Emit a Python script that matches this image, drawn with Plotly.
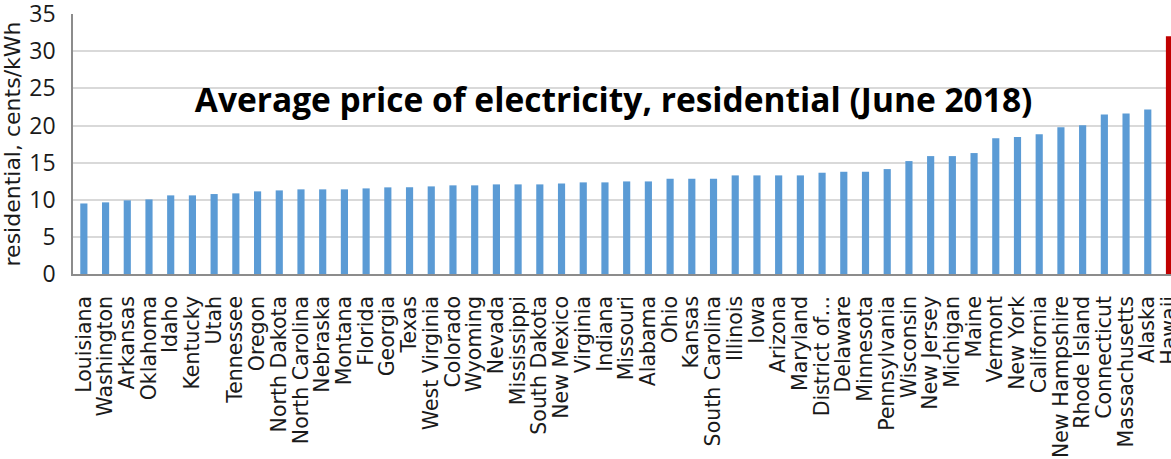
import plotly.graph_objects as go

# States ordered by price (June 2018)
states = [
    "Louisiana", "Washington", "Arkansas", "Oklahoma", "Idaho", "Kentucky",
    "Utah", "Tennessee", "Oregon", "North Dakota", "North Carolina",
    "Nebraska", "Montana", "Florida", "Georgia", "Texas", "West Virginia",
    "Colorado", "Wyoming", "Nevada", "Mississippi", "South Dakota",
    "New Mexico", "Virginia", "Indiana", "Missouri", "Alabama", "Ohio",
    "Kansas", "South Carolina", "Illinois", "Iowa", "Arizona", "Maryland",
    "District of…", "Delaware", "Minnesota", "Pennsylvania", "Wisconsin",
    "New Jersey", "Michigan", "Maine", "Vermont", "New York", "California",
    "New Hampshire", "Rhode Island", "Connecticut", "Massachusetts",
    "Alaska", "Hawaii",
]

# cents/kWh
prices = [
    9.50, 9.65, 9.92, 10.05, 10.59, 10.59, 10.77, 10.86, 11.13, 11.26,
    11.40, 11.40, 11.40, 11.53, 11.67, 11.67, 11.80, 11.94, 11.94, 12.07,
    12.07, 12.07, 12.20, 12.34, 12.34, 12.47, 12.47, 12.83, 12.83, 12.83,
    13.28, 13.28, 13.28, 13.28, 13.64, 13.77, 13.77, 14.13, 15.21, 15.88,
    15.88, 16.29, 18.30, 18.44, 18.84, 19.78, 20.05, 21.49, 21.63, 22.16,
    32.03,
]

y_ticks = [0, 5, 10, 15, 20, 25, 30, 35]

bar_colors = ["#c00000" if s == "Hawaii" else "#5b9bd5" for s in states]

fig = go.Figure()

fig.add_trace(go.Bar(
    x=states,
    y=prices,
    marker=dict(color=bar_colors, line=dict(width=0)),
    showlegend=False,
))

fig.update_layout(
    width=1171,
    height=459,
    margin=dict(l=73, r=0, t=14, b=185),
    plot_bgcolor="white",
    paper_bgcolor="white",
    bargap=0.67,
    font=dict(family="DejaVu Sans", size=20, color="#1a1a1a"),
    title=dict(
        text="<b>Average price of electricity, residential (June 2018)</b>",
        x=0.524,
        xanchor="center",
        y=0.782,
        yanchor="middle",
        font=dict(family="Open Sans", size=33.5, color="black"),
    ),
)

fig.update_xaxes(
    type="category",
    range=[-0.5, 50.07],
    tickmode="linear",
    dtick=1,
    automargin=False,
    tickangle=-90,
    showgrid=False,
    showline=True,
    linecolor="#8c8c8c",
    linewidth=1.5,
    ticks="",
    ticklabelstandoff=12,
    tickfont=dict(family="DejaVu Sans", size=20.5, color="#1a1a1a"),
)

fig.update_yaxes(
    range=[0, 35.02],
    tickvals=y_ticks,
    automargin=False,
    ticklabeloverflow="allow",
    showgrid=True,
    gridcolor="#d9d9d9",
    gridwidth=1.5,
    showline=True,
    linecolor="#8c8c8c",
    linewidth=1.5,
    zeroline=False,
    ticks="",
    ticklabelstandoff=11,
    tickfont=dict(family="Open Sans", size=23, color="#1a1a1a"),
    title=dict(text="residential, cents/kWh", standoff=6,
               font=dict(family="DejaVu Sans", size=22, color="#1a1a1a")),
)

# page body has an 8px default margin; drop it so the figure fills the window
fig.write_html(
    "out.html",
    config={"displayModeBar": False},
    post_script="document.body.style.margin = '0';",
)
